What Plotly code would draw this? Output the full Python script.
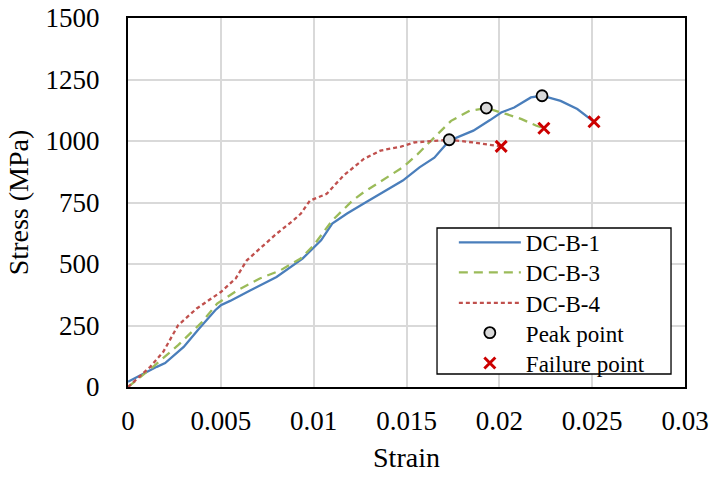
import plotly.graph_objects as go

# DC-B-1
b1_x = [0, 0.001, 0.00155, 0.002, 0.003, 0.0038, 0.0047, 0.005, 0.0055, 0.0066, 0.008, 0.0094,
        0.0104, 0.011, 0.0118, 0.0127, 0.0137, 0.0148, 0.0157, 0.0165, 0.0173, 0.0186, 0.0195,
        0.0201, 0.0208, 0.0217, 0.0223, 0.0233, 0.0242, 0.0251]
b1_y = [21, 62, 82, 97, 163, 235, 312, 332, 350, 393, 447, 522,
        596, 664, 705, 746, 790, 839, 893, 932, 1001, 1042, 1085,
        1116, 1136, 1177, 1184, 1163, 1130, 1078]

# DC-B-3
b3_x = [0, 0.00135, 0.0027, 0.004, 0.0048, 0.0059, 0.0071, 0.0082, 0.0093, 0.01, 0.011, 0.0121,
        0.0127, 0.014, 0.0148, 0.0156, 0.0165, 0.0174, 0.0184, 0.0193, 0.0204, 0.0212, 0.022, 0.0224]
b3_y = [0, 82, 170, 265, 339, 393, 441, 474, 522, 576, 677, 758,
        792, 853, 893, 947, 1015, 1082, 1123, 1134, 1109, 1089, 1062, 1052]

# DC-B-4
b4_x = [0, 0.0012, 0.0019, 0.0027, 0.0037, 0.005, 0.0058, 0.0064, 0.0073, 0.008, 0.0089, 0.0093,
        0.0098, 0.0107, 0.0116, 0.0127, 0.0136, 0.0147, 0.0154, 0.0165, 0.0173, 0.0186, 0.0199, 0.0201]
b4_y = [0, 82, 143, 251, 319, 386, 441, 515, 576, 623, 677, 704,
        758, 785, 859, 927, 961, 977, 994, 1001, 1005, 994, 980, 978]

peak_x = [0.0223, 0.0193, 0.0173]
peak_y = [1184, 1134, 1005]
fail_x = [0.0251, 0.0224, 0.0201]
fail_y = [1078, 1052, 978]

x_ticks = [0, 0.005, 0.01, 0.015, 0.02, 0.025, 0.03]
x_tick_labels = ["0", "0.005", "0.01", "0.015", "0.02", "0.025", "0.03"]
y_ticks = [0, 250, 500, 750, 1000, 1250, 1500]

FONT = "Liberation Serif"
TICK = dict(family=FONT, size=27, color="black")
TITLE = dict(family=FONT, size=28, color="black")
LEG_FONT = dict(family=FONT, size=23, color="black")

fig = go.Figure()
fig.add_trace(go.Scatter(x=b1_x, y=b1_y, mode="lines", name="DC-B-1", legend="legend",
                         line=dict(color="#4A7EBB", width=2.3)))
fig.add_trace(go.Scatter(x=b3_x, y=b3_y, mode="lines", name="DC-B-3", legend="legend2",
                         line=dict(color="#9BBB59", width=2.3, dash="9px,6px")))
fig.add_trace(go.Scatter(x=b4_x, y=b4_y, mode="lines", name="DC-B-4", legend="legend3",
                         line=dict(color="#C0504D", width=2.3, dash="4px,3px")))
fig.add_trace(go.Scatter(x=peak_x, y=peak_y, mode="markers", name="Peak point", legend="legend4",
                         marker=dict(symbol="circle", size=11, color="#D9D9D9",
                                     line=dict(color="black", width=1.8))))
fig.add_trace(go.Scatter(x=fail_x, y=fail_y, mode="markers", name="Failure point", legend="legend5",
                         marker=dict(symbol="x-thin", size=11, color="#CC0000",
                                     line=dict(color="#CC0000", width=3))))

# legend frame (box drawn behind the legend entries)
fig.add_shape(type="rect", xref="paper", yref="paper",
              x0=0.5548, x1=0.9749, y0=0.0352, y1=0.4309,
              fillcolor="white", line=dict(color="black", width=1.3), layer="above")

def leg(yc):
    return dict(x=0.585, y=yc, xanchor="left", yanchor="middle",
                bgcolor="rgba(0,0,0,0)", borderwidth=0,
                font=LEG_FONT, itemwidth=62)

leg_centers_px = [242.5, 272.5, 303, 332.7, 363]
plot_top, plot_bottom = 18, 387
leg_y = [(plot_bottom - c) / (plot_bottom - plot_top) for c in leg_centers_px]

fig.update_layout(
    width=712, height=479,
    margin=dict(l=128, r=27, t=18, b=92),
    paper_bgcolor="white", plot_bgcolor="white",
    font=dict(family=FONT, size=23, color="black"),
    showlegend=True,
    legend=leg(leg_y[0]), legend2=leg(leg_y[1]), legend3=leg(leg_y[2]),
    legend4=leg(leg_y[3]), legend5=leg(leg_y[4]),
    xaxis=dict(range=[0, 0.03], tickvals=x_ticks, ticktext=x_tick_labels,
               showgrid=True, gridcolor="#D9D9D9", gridwidth=1.5,
               showline=True, linecolor="black", linewidth=2, mirror=True,
               ticks="", zeroline=False, ticklabelstandoff=9, automargin=False,
               tickfont=TICK,
               title=dict(text="Strain", font=TITLE, standoff=12)),
    yaxis=dict(range=[0, 1500], tickvals=y_ticks,
               showgrid=True, gridcolor="#D9D9D9", gridwidth=1.5,
               showline=True, linecolor="black", linewidth=2, mirror=True,
               ticks="", zeroline=False, ticklabelstandoff=21, automargin=False,
               tickfont=TICK,
               title=dict(text="Stress (MPa)", font=TITLE, standoff=9)),
)

fig.write_html("out.html")
